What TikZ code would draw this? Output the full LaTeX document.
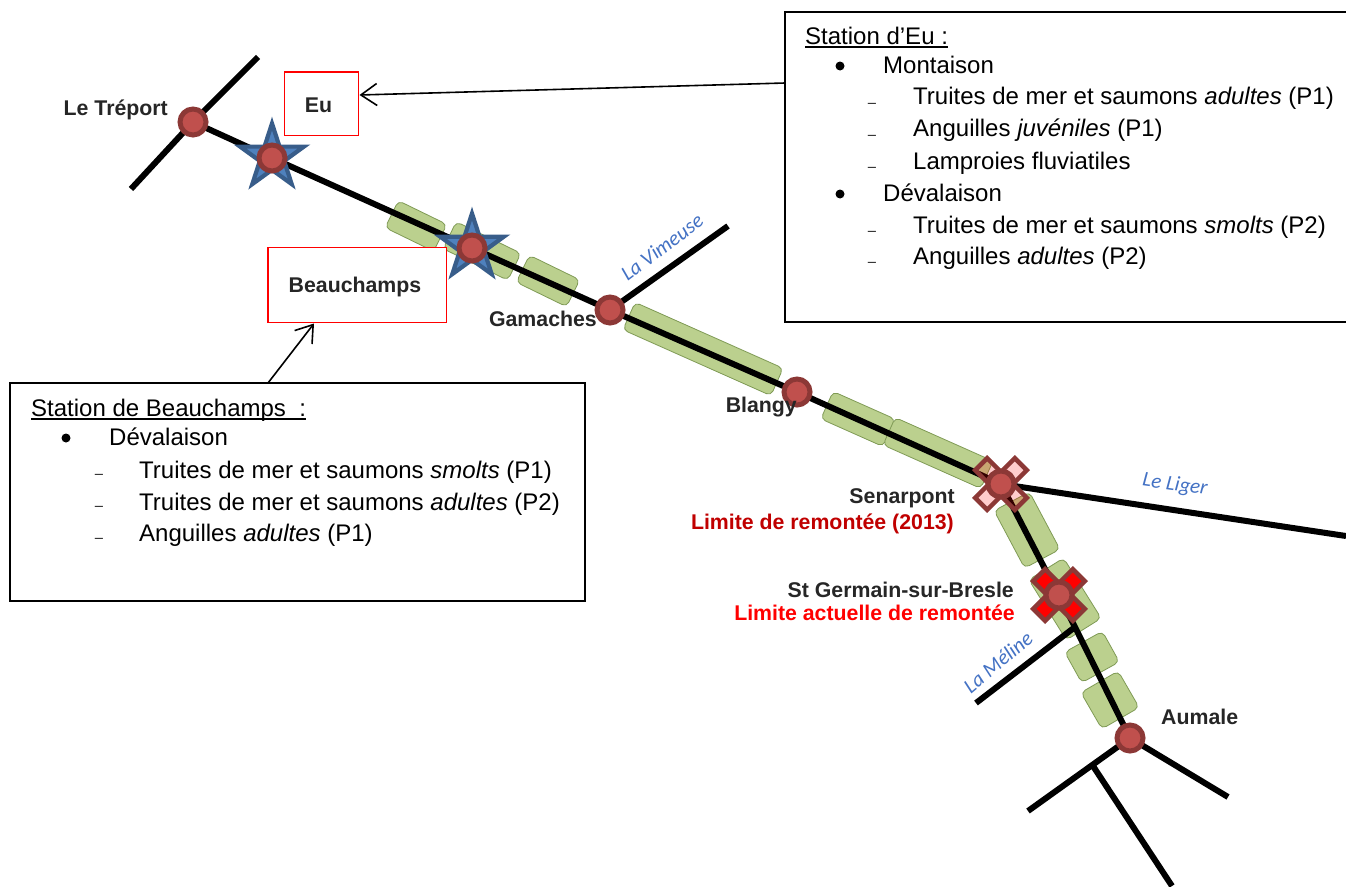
\documentclass[tikz,border=0pt]{standalone}
\usepackage{fontspec}
\setmainfont{Liberation Sans}
\newfontfamily\calib{Carlito}
\usetikzlibrary{arrows.meta,shapes.geometric}
\definecolor{greenfill}{HTML}{BBD08E}
\definecolor{greenline}{HTML}{7F9A55}
\definecolor{dotfill}{HTML}{C0504D}
\definecolor{dotline}{HTML}{8C3836}
\definecolor{starfill}{HTML}{4F81BD}
\definecolor{starline}{HTML}{385D8A}
\definecolor{labeltxt}{HTML}{262626}
\definecolor{rivertxt}{HTML}{4472C4}
\definecolor{darkred}{HTML}{C00000}
\newcommand{\xcross}[2]{%
  \draw[line width=4.5,draw=dotline,#2,shift={(#1)},rotate=45]
  (-8.5,-28)--(8.5,-28)--(8.5,-8.5)--(28,-8.5)--(28,8.5)--(8.5,8.5)--(8.5,28)--(-8.5,28)--(-8.5,8.5)--(-28,8.5)--(-28,-8.5)--(-8.5,-8.5)--cycle;}
\newsavebox{\ulsave}
\newcommand{\ulbox}[1]{\sbox{\ulsave}{#1}\rlap{\vrule height -2.2pt depth 4pt width\wd\ulsave}\usebox{\ulsave}}
\tikzset{
  x=1pt,y=-1pt,
  reach/.style={draw=greenline,fill=greenfill,line width=0.8,rounded corners=5,inner sep=0,outer sep=0,anchor=center},
  river/.style={line width=6,black},
  dotn/.style={circle,draw=dotline,fill=dotfill,line width=5,minimum size=26,inner sep=0,outer sep=0},
  starn/.style={star,star points=5,star point ratio=2.618,draw=starline,fill=starfill,line width=4.2,minimum size=67,inner sep=0,outer sep=0,miter limit=10},
  place/.style={font=\bfseries\fontsize{21.3}{24}\selectfont,text=labeltxt,inner sep=0,anchor=base},
  placer/.style={font=\bfseries\fontsize{21.3}{24}\selectfont,text=labeltxt,inner sep=0,anchor=base east},
  rivname/.style={font=\calib\itshape\fontsize{21}{24}\selectfont,text=rivertxt,inner sep=0},
  redbox/.style={draw=red,line width=1.5,fill=white,inner sep=0,outer sep=0,anchor=north west},
  txt/.style={font=\fontsize{24}{28}\selectfont,text=black,inner sep=0,anchor=base west},
  bul/.style={fill=black,circle,inner sep=0,minimum size=9},
  dsh/.style={font=\fontsize{14}{16}\selectfont,text=black,inner sep=0,anchor=base west},
  callout/.style={-{Straight Barb[length=16,width=22,line width=1.6]},line width=1.6,black},
}
\begin{document}
\begin{tikzpicture}
\useasboundingbox (0,0) rectangle (1346,886);
% green reaches
\foreach \cx/\cy/\l/\w/\a/\n in {416/226/54/30/26/ra,482/251/72/30/26/rb,548/281/56/30/26/rc,703/349/162/30/24/rd,858/419/68/30/24/re,938/453/107/30/24/rf,1027/530/65/40/62/rg,1065/599/71/41/58/rh,1092/657/35/43/61/ri,1110/700/42/43/60/rj}
  \node[reach,minimum width=\l,minimum height=\w,rotate=-\a] (\n) at (\cx,\cy) {};
% junctions
\coordinate (ltr) at (193,122);
\coordinate (eust) at (272,158);
\coordinate (bea) at (472,248);
\coordinate (gam) at (610,310);
\coordinate (bla) at (797,392);
\coordinate (sen) at (1001,484);
\coordinate (sge) at (1059,595);
\coordinate (mel) at (1075,627);
\coordinate (aum) at (1130,738);
\coordinate (ltra) at (131,189);
\coordinate (ltrb) at (258,57);
\coordinate (vim) at (728,226);
\coordinate (lig) at (1346,536);
\coordinate (mele) at (976,703);
\coordinate (auma) at (1228,797);
\coordinate (aumb) at (1028,811);
\coordinate (fork) at (1093,766);
\coordinate (forke) at (1172,886);
% rivers
\draw[river] (ltra)--(ltr)--(ltrb);
\draw[river] (ltr)--(eust)--(bea)--(gam)--(bla)--(sen)--(mel)--(aum);
\draw[river] (gam)--(vim);
\draw[river] (sen)--(lig);
\draw[river] (mel)--(mele);
\draw[river] (aum)--(auma);
\draw[river] (aum)--(aumb);
\draw[river] (fork)--(forke);
% stars
\node[starn] (steu) at (272,157) {};
\node[starn] (stbe) at (472,247) {};
% crosses
\xcross{sen}{fill=red,fill opacity=0.2}
\xcross{sge}{fill=red}
% dots
\foreach \p in {ltr,eust,bea,gam,bla,sen,sge,aum}
  \node[dotn] (d\p) at (\p) {};
% red boxes
\node[redbox,minimum width=74,minimum height=63.5] (eubox) at (284.7,72.2) {};
\node[place] (eutxt) at (318.5,112) {Eu};
\node[redbox,minimum width=178.5,minimum height=75] (beabox) at (268,247.5) {};
\node[place] (beatxt) at (355,292) {Beauchamps};
% info boxes
\node[draw=black,line width=2,inner sep=0,outer sep=0,anchor=north west,minimum width=575,minimum height=218] (beainfo) at (10,383) {};
\draw[black,line width=2] (1346,12)--(785,12)--(785,322)--(1346,322);
\coordinate (eufrom) at (785,83);
\coordinate (euto) at (359.5,95);
\coordinate (beafrom) at (268,383);
\coordinate (beato) at (314,323.5);
\draw[callout] (eufrom)--(euto);
\draw[callout] (beafrom)--(beato);
% place labels
\node[placer] at (168,115) {Le Tréport};
\node[placer] at (597,326) {Gamaches};
\node[placer] at (797,412) {Blangy};
\node[placer] at (955,503) {Senarpont};
\node[placer,text=darkred] at (954,529) {Limite de remontée (2013)};
\node[placer] at (1014,597) {St Germain-sur-Bresle};
\node[placer,text=red] at (1015,620) {Limite actuelle de remontée};
\node[place,anchor=base west] at (1161,724) {Aumale};
% river labels
\node[rivname,rotate=37] at (662,247) {La Vimeuse};
\node[rivname,rotate=-8] at (1175,485) {Le Liger};
\node[rivname,rotate=40] at (998,662) {La Méline};
% Eu text
\node[txt] at (805,44) {\ulbox{Station d’Eu :}};
\node[bul] at (840,66) {};
\node[txt] at (883,73) {Montaison};
\node[dsh] at (868,101.5) {\_};
\node[txt] at (913,104) {Truites de mer et saumons \textit{adultes} (P1)};
\node[dsh] at (868,133.5) {\_};
\node[txt] at (913,136) {Anguilles \textit{juvéniles} (P1)};
\node[dsh] at (868,165.5) {\_};
\node[txt] at (913,169) {Lamproies fluviatiles};
\node[bul] at (840,194) {};
\node[txt] at (883,201) {Dévalaison};
\node[dsh] at (868,229.5) {\_};
\node[txt] at (913,233) {Truites de mer et saumons \textit{smolts} (P2)};
\node[dsh] at (868,260.5) {\_};
\node[txt] at (913,264) {Anguilles \textit{adultes} (P2)};
% Beauchamps text
\node[txt] at (31,416) {\ulbox{Station de Beauchamps\ \ :}};
\node[bul] at (66,438) {};
\node[txt] at (109,445) {Dévalaison};
\node[dsh] at (95,472.5) {\_};
\node[txt] at (139,478) {Truites de mer et saumons \textit{smolts} (P1)};
\node[dsh] at (95,504.5) {\_};
\node[txt] at (139,510) {Truites de mer et saumons \textit{adultes} (P2)};
\node[dsh] at (95,536.5) {\_};
\node[txt] at (139,541) {Anguilles \textit{adultes} (P1)};
\end{tikzpicture}
\end{document}
